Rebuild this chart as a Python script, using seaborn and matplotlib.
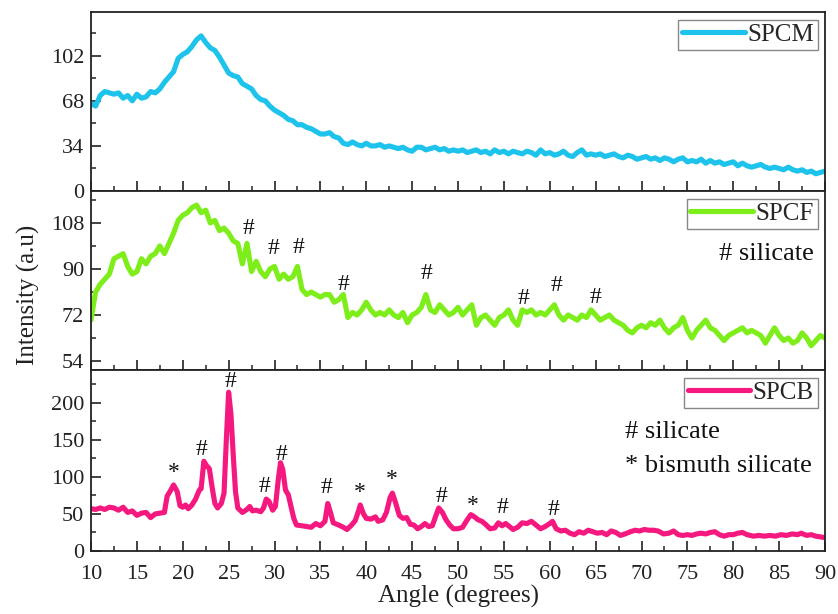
import numpy as np
import pandas as pd
import matplotlib
matplotlib.use("Agg")
import matplotlib.pyplot as plt
import seaborn as sns
from matplotlib.ticker import MultipleLocator

# ---------------- data ----------------
spcm_intensity = [
    66, 64, 72, 75, 74, 73, 74, 70, 72, 68, 73, 70, 71, 75, 74, 77, 82, 86, 90, 100,
    103, 105, 109, 114, 117, 112, 108, 106, 101, 95, 89, 87, 86, 81, 79, 77, 72, 69, 68, 64,
    61, 59, 57, 54, 53, 50, 50, 48, 47, 45, 43, 43, 44, 41, 40, 36, 35, 37, 35, 34,
    36, 34, 34, 35, 33, 34, 33, 32, 33, 31, 30, 33, 33, 31, 32, 33, 31, 32, 30, 31,
    30, 31, 29, 30, 31, 29, 30, 28, 31, 29, 30, 28, 30, 29, 28, 30, 29, 27, 31, 28,
    29, 27, 28, 30, 27, 26, 29, 31, 27, 28, 27, 28, 26, 27, 28, 26, 25, 27, 26, 24,
    25, 26, 24, 25, 23, 25, 24, 22, 24, 25, 22, 23, 22, 24, 21, 23, 21, 22, 20, 21,
    22, 19, 21, 19, 18, 19, 20, 18, 17, 18, 17, 16, 18, 16, 15, 16, 14, 15, 13, 14,
    15,
]
spcm_angle = np.linspace(10, 90, len(spcm_intensity))

spcf_intensity = [
    70, 81, 84, 86, 88, 94, 95, 96, 91, 88, 89, 94, 92, 95, 96, 99, 96, 100, 104, 109,
    111, 112, 114, 115, 112, 113, 108, 109, 105, 106, 104, 101, 100, 92, 100, 89, 93, 89, 87, 90,
    91, 86, 88, 86, 87, 91, 82, 80, 81, 80, 79, 80, 80, 77, 78, 80, 71, 73, 72, 74,
    77, 74, 72, 73, 72, 74, 72, 71, 73, 69, 72, 73, 75, 80, 74, 73, 76, 74, 72, 73,
    75, 72, 74, 76, 68, 71, 72, 70, 68, 71, 72, 74, 70, 68, 74, 73, 74, 72, 73, 72,
    74, 76, 72, 70, 72, 71, 70, 72, 71, 74, 72, 70, 71, 72, 70, 69, 68, 66, 65, 67,
    68, 67, 69, 68, 70, 67, 65, 67, 68, 71, 66, 63, 66, 68, 70, 67, 66, 64, 62, 64,
    65, 66, 67, 65, 66, 65, 64, 61, 64, 67, 64, 62, 63, 61, 62, 65, 63, 60, 62, 64,
    63,
]
spcf_angle = np.linspace(10, 90, len(spcf_intensity))

spcb_angle = [
    10.0, 10.5, 11.0, 11.5, 12.0, 12.5, 13.0, 13.5, 14.0, 14.5, 15.0, 15.5, 16.0, 16.5, 17.0, 17.5,
    18.0, 18.3, 18.6, 19.0, 19.4, 19.7, 20.0, 20.3, 20.6, 21.0, 21.4, 21.8, 22.0, 22.3, 22.6, 22.9,
    23.2, 23.5, 23.8, 24.2, 24.5, 24.75, 25.0, 25.25, 25.5, 25.75, 26.0, 26.5, 27.0, 27.3, 27.6, 28.0,
    28.5, 28.8, 29.1, 29.4, 29.8, 30.1, 30.4, 30.65, 30.9, 31.2, 31.5, 31.8, 32.1, 32.4, 33.0, 33.5,
    34.0, 34.5, 35.0, 35.5, 35.8, 36.1, 36.4, 37.0, 37.5, 37.9, 38.4, 38.8, 39.1, 39.35, 39.7, 40.0,
    40.5, 41.0, 41.3, 41.8, 42.2, 42.6, 42.85, 43.2, 43.6, 44.0, 44.4, 44.8, 45.2, 45.6, 46.0, 46.4,
    46.8, 47.2, 47.6, 47.9, 48.3, 48.7, 49.1, 49.5, 50.0, 50.5, 51.0, 51.4, 51.8, 52.2, 52.6, 53.0,
    53.5, 54.0, 54.4, 54.8, 55.2, 55.6, 56.0, 56.5, 57.0, 57.5, 58.0, 58.5, 59.0, 59.5, 60.0, 60.3,
    60.7, 61.2, 61.7, 62.2, 62.7, 63.2, 63.7, 64.2, 64.7, 65.2, 65.7, 66.2, 66.7, 67.2, 67.7, 68.2,
    68.8, 69.3, 69.8, 70.3, 70.8, 71.3, 71.8, 72.4, 73.0, 73.5, 74.0, 74.5, 75.0, 75.5, 76.0, 76.5,
    77.0, 77.5, 78.0, 78.5, 79.0, 79.5, 80.0, 80.5, 81.0, 81.5, 82.2, 82.8, 83.4, 84.0, 84.6, 85.2,
    85.8, 86.4, 87.0, 87.4, 88.0, 88.5, 89.0, 89.5, 90.0,
]
spcb_intensity = [
    57, 56, 58, 56, 59, 58, 55, 59, 52, 54, 48, 51, 52, 45, 50, 51,
    52, 74, 80, 89, 80, 61, 59, 62, 57, 62, 70, 82, 84, 121, 115, 111,
    86, 64, 58, 64, 78, 150, 214, 185, 130, 80, 58, 52, 56, 60, 54, 55,
    53, 58, 70, 67, 55, 60, 95, 119, 110, 82, 76, 60, 44, 35, 34, 33,
    32, 37, 34, 40, 64, 52, 38, 35, 32, 29, 35, 41, 52, 62, 50, 44,
    43, 46, 40, 42, 52, 72, 78, 65, 48, 44, 45, 36, 35, 30, 33, 37,
    33, 34, 48, 58, 52, 42, 35, 30, 30, 32, 42, 49, 46, 42, 40, 36,
    30, 31, 38, 34, 37, 33, 29, 32, 38, 37, 40, 35, 30, 33, 37, 40,
    30, 27, 28, 24, 22, 26, 24, 28, 26, 24, 25, 22, 27, 25, 21, 23,
    26, 28, 27, 29, 28, 28, 27, 23, 24, 27, 22, 21, 22, 21, 23, 24,
    23, 25, 26, 22, 20, 22, 22, 24, 25, 22, 20, 21, 20, 21, 20, 22,
    21, 23, 22, 24, 21, 22, 20, 19, 18,
]

# annotation marks (angle, intensity, symbol)
spcf_marks_x = [27.2, 29.9, 32.6, 37.5, 46.6, 57.1, 60.7, 65.0]
spcf_marks_y = [106, 98, 98.5, 84, 88.3, 78.4, 83.5, 79]
spcf_marks_s = ["#"] * 8

spcb_marks_x = [19.0, 22.0, 25.2, 28.9, 30.8, 35.7, 39.3, 42.8, 48.2, 51.6, 54.9, 60.4]
spcb_marks_y = [106, 137, 228, 87, 130, 85, 78.5, 96, 74, 62, 58, 56]
spcb_marks_s = ["*", "#", "#", "#", "#", "#", "*", "*", "#", "*", "#", "#"]

x_ticks = [10, 15, 20, 25, 30, 35, 40, 45, 50, 55, 60, 65, 70, 75, 80, 85, 90]
spcm_ticks = [0, 34, 68, 102]
spcf_ticks = [54, 72, 90, 108]
spcb_ticks = [0, 50, 100, 150, 200]

colors = {"SPCM": "#1EC3EC", "SPCF": "#7DEE1A", "SPCB": "#F5197F"}

# ---------------- style ----------------
sns.set_theme(style="ticks")
plt.rcParams["font.family"] = ["Liberation Serif", "DejaVu Serif"]

fig = plt.figure(figsize=(8.38, 6.14), dpi=100)
L, R = 91 / 838, 825 / 838
tops = [12, 191, 370]
bots = [191, 370, 551]
axes = []
for t, b in zip(tops, bots):
    ax = fig.add_axes([L, 1 - b / 614, R - L, (b - t) / 614])
    axes.append(ax)

panels = [
    ("SPCM", spcm_angle, spcm_intensity, (0, 135), spcm_ticks, 17),
    ("SPCF", spcf_angle, spcf_intensity, (50.5, 120.5), spcf_ticks, 9),
    ("SPCB", spcb_angle, spcb_intensity, (0, 244), spcb_ticks, 25),
]

for ax, (name, xs, ys, ylim, yt, ymin) in zip(axes, panels):
    df = pd.DataFrame({"angle": xs, "intensity": ys})
    sns.lineplot(data=df, x="angle", y="intensity", ax=ax, color=colors[name],
                 linewidth=3.7, label=name, sort=False, estimator=None)
    ax.set_xlim(10, 90)
    ax.set_ylim(*ylim)
    ax.set_xticks(x_ticks)
    ax.xaxis.set_minor_locator(MultipleLocator(2.5))
    ax.set_yticks(yt)
    ax.yaxis.set_minor_locator(MultipleLocator(ymin))
    ax.tick_params(axis="both", which="major", direction="in", length=7, width=1.2,
                   labelsize=16, colors="#222222")
    ax.tick_params(axis="y", which="major", pad=5)
    ax.tick_params(axis="x", which="major", pad=10)
    ax.tick_params(axis="both", which="minor", direction="in", length=3.5, width=1.1)
    for sp in ax.spines.values():
        sp.set_linewidth(1.3)
        sp.set_color("#222222")
    ax.set_xlabel("")
    ax.set_ylabel("")
    leg = ax.legend(loc="upper right", fontsize=18, handlelength=2.5, handletextpad=0.1,
                    borderpad=0.15, borderaxespad=0.3, frameon=True, fancybox=False,
                    framealpha=1, edgecolor="#888888")
    leg.get_frame().set_linewidth(1.0)

for ax in axes[:2]:
    ax.tick_params(axis="x", labelbottom=False)

# annotations
for x, y, s in zip(spcf_marks_x, spcf_marks_y, spcf_marks_s):
    axes[1].text(x, y, s, ha="center", va="center", fontsize=17, color="#111111")
for x, y, s in zip(spcb_marks_x, spcb_marks_y, spcb_marks_s):
    axes[2].text(x, y, s, ha="center", va="center", fontsize=17, color="#111111")

axes[1].text(0.985, 0.65, "# silicate", transform=axes[1].transAxes, ha="right",
             va="center", fontsize=19, color="#111111")
axes[2].text(68.2, 160, "# silicate", ha="left", va="center", fontsize=19, color="#111111")
axes[2].text(68.2, 114, "* bismuth silicate", ha="left", va="center", fontsize=19,
             color="#111111")

axes[2].set_xlabel("Angle (degrees)", fontsize=18, labelpad=1, color="#222222")
fig.text(0.034, 0.52, "Intensity (a.u)", rotation=90, ha="center", va="center",
         fontsize=18, color="#222222")

fig.savefig("out.png", dpi=100)
